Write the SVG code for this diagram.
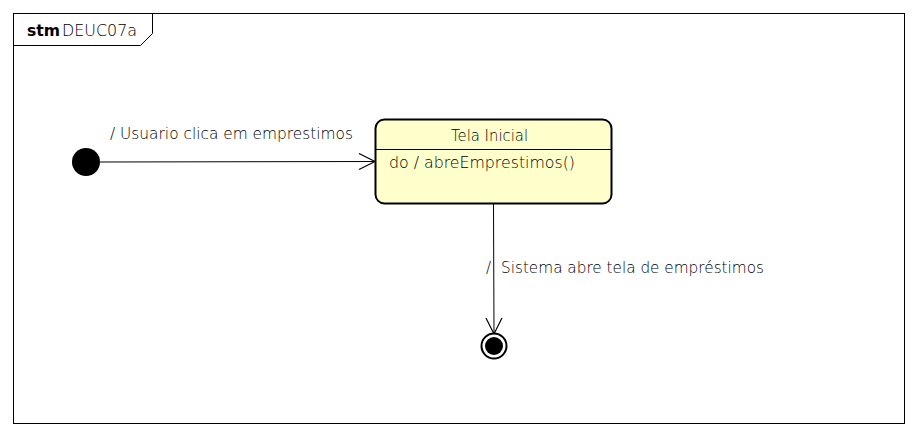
<svg xmlns="http://www.w3.org/2000/svg" width="918" height="437" viewBox="0 0 918 437">
<style>
text{font-family:"DejaVu Sans","Liberation Sans",sans-serif;font-size:15px;font-weight:200;fill:#000}
.ln{stroke:#000;stroke-width:1;fill:none}
</style>
<defs>
<marker id="open" viewBox="0 0 20 20" refX="18" refY="10" markerWidth="20" markerHeight="20" markerUnits="userSpaceOnUse" orient="auto">
<path d="M2,2 L18,10 L2,18" fill="none" stroke="#000" stroke-width="1.2"/>
</marker>
</defs>
<rect x="0" y="0" width="918" height="437" fill="#fff"/>
<g id="frame">
<rect x="13.5" y="13.5" width="891" height="410" class="ln"/>
<path d="M13.5,45.5 L140.5,45.5 L152.5,33.5 L152.5,13.5" class="ln"/>
<text x="27" y="36"><tspan font-weight="bold" textLength="33" lengthAdjust="spacingAndGlyphs">stm</tspan><tspan x="62" textLength="75" lengthAdjust="spacingAndGlyphs">DEUC07a</tspan></text>
</g>
<g id="connectors">
<line x1="100" y1="162" x2="375" y2="161.5" class="ln" marker-end="url(#open)"/>
<text x="110" y="139" textLength="243" lengthAdjust="spacingAndGlyphs">/ Usuario clica em emprestimos</text>
<line x1="493.5" y1="204" x2="494" y2="334" class="ln" marker-end="url(#open)"/>
<text x="486" y="273" textLength="7">/</text>
<text x="501" y="273" textLength="263" lengthAdjust="spacingAndGlyphs">Sistema abre tela de empréstimos</text>
</g>
<g id="initial">
<circle cx="86" cy="162" r="14" fill="#000"/>
</g>
<g id="telaInicial">
<rect x="375.5" y="119.5" width="236" height="84" rx="9" ry="9" fill="#ffffcc" stroke="#000" stroke-width="2"/>
<line x1="376" y1="149.5" x2="611" y2="149.5" class="ln"/>
<text x="451" y="141" textLength="77" lengthAdjust="spacingAndGlyphs">Tela Inicial</text>
<text x="389" y="168" textLength="186" lengthAdjust="spacingAndGlyphs">do / abreEmprestimos()</text>
</g>
<g id="final">
<circle cx="494" cy="346" r="12.5" fill="#fff" stroke="#000" stroke-width="2"/>
<circle cx="494" cy="346" r="9" fill="#000"/>
</g>
</svg>
